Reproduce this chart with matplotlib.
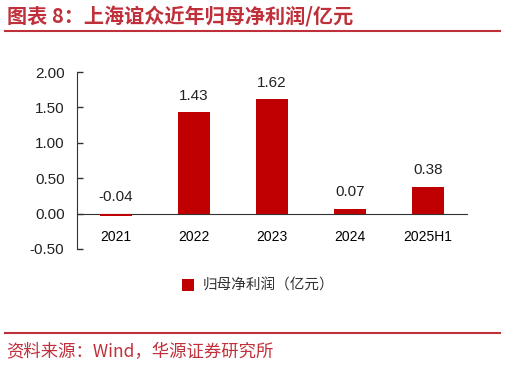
import matplotlib.pyplot as plt
import numpy as np

plt.rcParams['font.family'] = ['Liberation Sans', 'Noto Sans CJK SC', 'DejaVu Sans']

years = ['2021', '2022', '2023', '2024', '2025H1']
profit = [-0.04, 1.43, 1.62, 0.07, 0.38]
yticks = [-0.5, 0.0, 0.5, 1.0, 1.5, 2.0]

red = '#C00000'
title_red = '#C0303A'

fig = plt.figure(figsize=(5.06, 3.66), dpi=100)
ax = fig.add_axes([77 / 506, 1 - 249 / 366, 390 / 506, 177 / 366])

x = np.arange(len(years))
ax.bar(x, profit, width=0.41, color=red, zorder=3)
for xi, v in zip(x, profit):
    yy = max(v, 0) + 0.13
    ax.text(xi, yy, f'{v:.2f}', ha='center', va='bottom', fontsize=11, color='#222222')

ax.set_xlim(-0.5, len(years) - 0.5)
ax.set_ylim(-0.5, 2.0)
ax.set_yticks(yticks)
ax.set_yticklabels([f'{t:.2f}' for t in yticks], fontsize=11, color='#222222')
ax.set_xticks(x)
ax.set_xticklabels(years, fontsize=11, color='#222222')
ax.tick_params(axis='x', length=0, pad=12)
ax.tick_params(axis='y', direction='in', length=4, width=1, color='#333333', pad=9)

for s in ['top', 'right']:
    ax.spines[s].set_visible(False)
ax.spines['bottom'].set_position(('data', 0))
ax.spines['left'].set_color('#333333')
ax.spines['bottom'].set_color('#333333')

# legend
ax.bar([0], [0], color=red, label='归母净利润（亿元）')
leg = fig.legend(*ax.get_legend_handles_labels(), loc='center', bbox_to_anchor=(258 / 506, 1 - 286 / 366),
                 frameon=False, handlelength=0.8, handleheight=0.8, handletextpad=0.6,
                 prop={'family': 'Noto Sans CJK SC', 'size': 10.5})
for t in leg.get_texts():
    t.set_color('#333333')

# header / footer
fig.text(7 / 506, 1 - 17 / 366, '图表 8：上海谊众近年归母净利润/亿元', ha='left', va='center',
         fontsize=14.5, color=title_red, fontweight='bold', family=['Noto Sans CJK SC', 'DejaVu Sans'])
fig.add_artist(plt.Line2D([5 / 506, 500 / 506], [1 - 31 / 366, 1 - 31 / 366], color=title_red, lw=1.5))
fig.add_artist(plt.Line2D([5 / 506, 500 / 506], [1 - 333 / 366, 1 - 333 / 366], color=title_red, lw=1.5))
fig.text(6 / 506, 1 - 352 / 366, '资料来源：Wind，华源证券研究所', ha='left', va='center',
         fontsize=12.5, color=title_red, family=['Noto Sans CJK SC', 'DejaVu Sans'])

fig.savefig('out.png', dpi=100)
